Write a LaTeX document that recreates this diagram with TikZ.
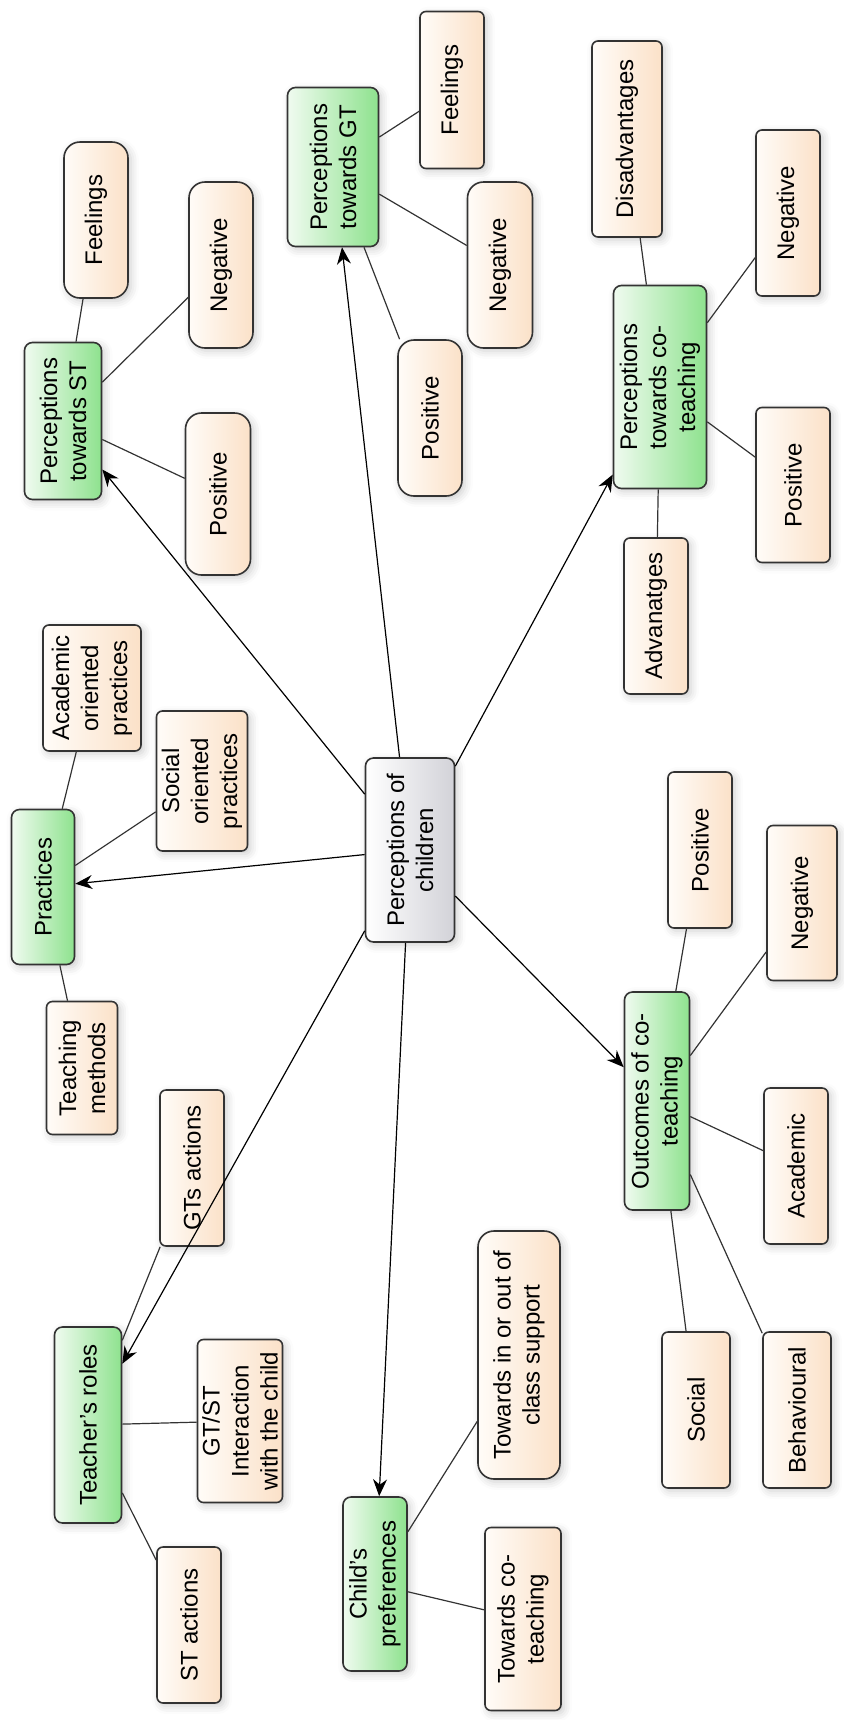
\documentclass[tikz,border=0pt]{standalone}
\usepackage{fontspec}
\setmainfont{Liberation Sans}
\usetikzlibrary{arrows.meta, shadows.blur}

\definecolor{topicgreen}{HTML}{8EE28E}
\definecolor{topiclight}{HTML}{F0FBF0}
\definecolor{leafpeach}{HTML}{FBE1C8}
\definecolor{leaflight}{HTML}{FFFCF8}
\definecolor{coregray}{HTML}{D2D2D8}
\definecolor{edgegray}{HTML}{333333}

\tikzstyle{box} = [rectangle, rotate=90, draw=edgegray, line width=0.8pt, align=center, inner sep=2pt, font=\fontsize{12}{14.5}\selectfont, blur shadow={shadow xshift=1.5pt, shadow yshift=-1.5pt, shadow opacity=20, shadow blur radius=4pt}]
\tikzstyle{core} = [box, rounded corners=4pt, left color=white, right color=coregray, minimum width=92pt, minimum height=44.5pt]
\tikzstyle{topic} = [box, rounded corners=4pt, left color=topiclight, right color=topicgreen]
\tikzstyle{leaf} = [box, rounded corners=3pt, left color=leaflight, right color=leafpeach, minimum width=78pt, minimum height=32pt]
\tikzstyle{leafround} = [leaf, rounded corners=8pt]
\tikzstyle{arrow} = [draw=black, line width=0.6pt, -{Stealth[length=8.5pt,width=7pt]}]
\tikzstyle{link} = [draw=edgegray, line width=0.6pt]
\tikzset{dims/.style 2 args={minimum height=#1*0.5pt, minimum width=#2*0.5pt}}

\begin{document}
\begin{tikzpicture}[x=0.5pt, y=-0.5pt]
    \useasboundingbox (0,0) rectangle (843,1720);
    \node [core] at (410,850) (children) {Perceptions of\\children};

    \node [topic, dims={77}{157}] at (63,421) (percst) {Perceptions\\towards ST};
    \node [leafround] at (96,220) (feelst) {Feelings};
    \node [leafround, dims={64}{166}] at (221,265) (negst) {Negative};
    \node [leafround, dims={65}{162}] at (218,494) (posst) {Positive};

    \node [topic, dims={91}{159}] at (333,167) (percgt) {Perceptions\\towards GT};
    \node [leaf, dims={64}{157}] at (452,90) (feelgt) {Feelings};
    \node [leafround, dims={65}{166}] at (500,265) (neggt) {Negative};
    \node [leafround] at (430,418) (posgt) {Positive};

    \node [topic, dims={93}{203}] at (660,387) (percco) {Perceptions\\towards co-\\teaching};
    \node [leaf, dims={70}{196}] at (627,139) (disadv) {Disadvantages};
    \node [leaf, dims={64}{166}] at (788,213) (negco) {Negative};
    \node [leaf, dims={74}{155}] at (793,485) (posco) {Positive};
    \node [leaf] at (656,616) (adv) {Advanatges};

    \node [topic, dims={63}{155}] at (43,887) (practices) {Practices};
    \node [leaf, dims={98}{126}] at (92,688) (acadprac) {Academic\\oriented\\practices};
    \node [leaf, dims={91}{140}] at (202,781) (socprac) {Social\\oriented\\practices};
    \node [leaf, dims={71}{133}] at (82,1068) (methods) {Teaching\\methods};

    \node [topic, dims={65}{218}] at (657,1101) (outcomes) {Outcomes of co-\\teaching};
    \node [leaf] at (700,850) (posout) {Positive};
    \node [leaf, dims={70}{155}] at (802,903) (negout) {Negative};
    \node [leaf] at (796,1166) (acadout) {Academic};
    \node [leaf, dims={68}{156}] at (696,1410) (socout) {Social};
    \node [leaf, dims={68}{156}] at (797,1410) (behout) {Behavioural};

    \node [topic, dims={67}{196}] at (88,1425) (roles) {Teacher's roles};
    \node [leaf] at (192,1168) (gtact) {GTs actions};
    \node [leaf, dims={85}{163}] at (240,1421) (interact) {GT/ST\\Interaction\\with the child};
    \node [leaf] at (189,1625) (stact) {ST actions};

    \node [topic, dims={64}{174}] at (375,1584) (prefs) {Child's\\preferences};
    \node [leafround, dims={82}{248}] at (519,1355) (inout) {Towards in or out of\\class support};
    \node [leaf, dims={76}{183}] at (523,1619) (towco) {Towards co-\\teaching};

    % sub-topics
    \draw [link] (feelst) -- (percst);
    \draw [link] (negst) -- (percst);
    \draw [link] (posst) -- (percst);
    \draw [link] (feelgt) -- (percgt);
    \draw [link] (neggt) -- (percgt);
    \draw [link] (posgt) -- (percgt);
    \draw [link] (disadv) -- (percco);
    \draw [link] (negco) -- (percco);
    \draw [link] (posco) -- (percco);
    \draw [link] (adv) -- (percco);
    \draw [link] (acadprac) -- (practices);
    \draw [link] (socprac) -- (practices);
    \draw [link] (methods) -- (practices);
    \draw [link] (posout) -- (outcomes);
    \draw [link] (negout) -- (outcomes);
    \draw [link] (acadout) -- (outcomes);
    \draw [link] (socout) -- (outcomes);
    \draw [link] (behout) -- (outcomes);
    \draw [link] (gtact) -- (roles);
    \draw [link] (interact) -- (roles);
    \draw [link] (stact) -- (roles);
    \draw [link] (inout) -- (prefs);
    \draw [link] (towco) -- (prefs);

    % main topics
    \draw [arrow] (children) -- (percst);
    \draw [arrow] (children) -- (percgt);
    \draw [arrow] (children) -- (percco);
    \draw [arrow] (children) -- (practices);
    \draw [arrow] (children) -- (outcomes);
    \draw [arrow] (children) -- (roles);
    \draw [arrow] (children) -- (prefs);
\end{tikzpicture}
\end{document}
